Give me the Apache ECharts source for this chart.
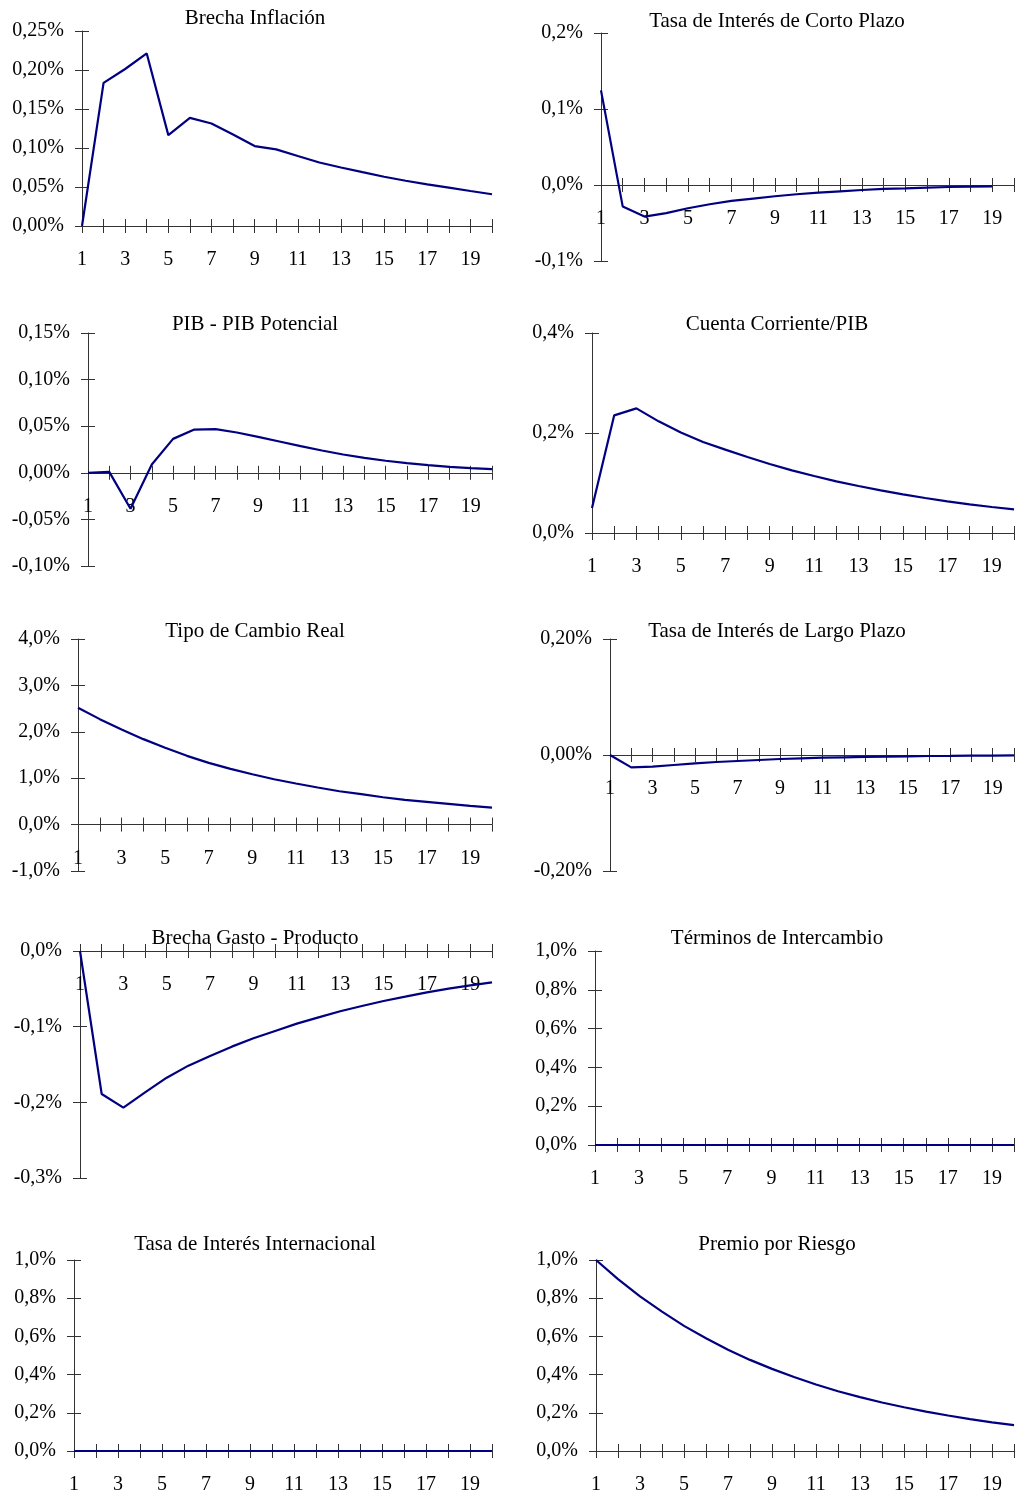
<!DOCTYPE html>
<html>
<head>
<meta charset="utf-8">
<script src="https://cdn.jsdelivr.net/npm/echarts@6/dist/echarts.min.js"></script>
<style>
html,body{margin:0;padding:0;background:#fff;}
#chart{width:1016px;height:1497px;}
</style>
</head>
<body>
<div id="chart"></div>
<script>
// ---- data (percent) ----
const periods = ['1','2','3','4','5','6','7','8','9','10','11','12','13','14','15','16','17','18','19','20'];

const brechaInflacion = [0, 0.1835, 0.2013, 0.2212, 0.1165, 0.1386, 0.1314, 0.1174, 0.1025, 0.0983, 0.0898, 0.0814, 0.075, 0.069, 0.0631, 0.058, 0.0534, 0.0492, 0.0449, 0.0407];
const tasaCorto = [0.1245, -0.0284, -0.0415, -0.0371, -0.0306, -0.0253, -0.021, -0.0179, -0.0148, -0.0122, -0.01, -0.0083, -0.0066, -0.0052, -0.0044, -0.0035, -0.0026, -0.0022, -0.0017, null];
const pibPotencial = [0, 0.001, -0.0386, 0.0089, 0.0364, 0.0464, 0.0468, 0.0432, 0.0386, 0.0336, 0.0286, 0.0239, 0.0196, 0.0161, 0.0129, 0.0104, 0.0082, 0.0064, 0.005, 0.0039];
const cuentaCorriente = [0.05, 0.2353, 0.2493, 0.2233, 0.201, 0.182, 0.1667, 0.152, 0.138, 0.1253, 0.114, 0.1033, 0.094, 0.0853, 0.0773, 0.07, 0.0633, 0.0573, 0.052, 0.0473];
const tipoCambio = [2.518, 2.273, 2.05, 1.842, 1.655, 1.482, 1.331, 1.201, 1.086, 0.978, 0.885, 0.799, 0.719, 0.655, 0.59, 0.532, 0.489, 0.446, 0.403, 0.367];
const tasaLargo = [0, -0.0213, -0.0201, -0.0172, -0.0144, -0.0121, -0.0103, -0.0086, -0.0069, -0.0057, -0.0046, -0.004, -0.0034, -0.0029, -0.0023, -0.0017, -0.0015, -0.0012, -0.001, -0.0008];
const brechaGasto = [0, -0.189, -0.207, -0.1868, -0.1674, -0.1515, -0.1388, -0.1264, -0.1154, -0.1057, -0.096, -0.0877, -0.0797, -0.0727, -0.0661, -0.0604, -0.0546, -0.0498, -0.0454, -0.0414];
const terminosIntercambio = [0,0,0,0,0,0,0,0,0,0,0,0,0,0,0,0,0,0,0,0];
const tasaInternacional = [0,0,0,0,0,0,0,0,0,0,0,0,0,0,0,0,0,0,0,0];
const premioRiesgo = [1.0, 0.90, 0.81, 0.73, 0.655, 0.59, 0.53, 0.477, 0.43, 0.387, 0.348, 0.313, 0.282, 0.254, 0.229, 0.206, 0.186, 0.167, 0.15, 0.135];

const titles = ['Brecha Inflación','Tasa de Interés de Corto Plazo','PIB - PIB Potencial','Cuenta Corriente/PIB','Tipo de Cambio Real','Tasa de Interés de Largo Plazo','Brecha Gasto - Producto','Términos de Intercambio','Tasa de Interés Internacional','Premio por Riesgo'];
const seriesData = [brechaInflacion, tasaCorto, pibPotencial, cuentaCorriente, tipoCambio, tasaLargo, brechaGasto, terminosIntercambio, tasaInternacional, premioRiesgo];
// y-axis scales: [min, max, interval, decimals]
const yScales = [[0,0.25,0.05,2],[-0.1,0.2,0.1,1],[-0.1,0.15,0.05,2],[0,0.4,0.2,1],[-1,4,1,1],[-0.2,0.2,0.2,2],[-0.3,0,0.1,1],[0,1,0.2,1],[0,1,0.2,1],[0,1,0.2,1]];

// ---- layout ----
const W = 1016, H = 1497;
// [axisX, rightEnd, topY, bottomY, titleCenterX, titleCenterY]
const layout = [
  [82, 492, 31, 226, 255, 17],
  [601, 1014, 33, 261, 777, 20],
  [88, 492, 333, 566, 255, 323],
  [592, 1014, 333, 533, 777, 323],
  [78, 492, 639, 871, 255, 630],
  [610, 1014, 639, 871, 777, 630],
  [80, 492, 951, 1178, 255, 937],
  [595, 1014, 951, 1145, 777, 937],
  [74, 492, 1260, 1451, 255, 1243],
  [596, 1014, 1260, 1451, 777, 1243]
];

const FONT = "'Liberation Serif','Times New Roman',serif";
const AXIS_COLOR = '#333';
const LINE_COLOR = '#000080';

const grid = [], xAxis = [], yAxis = [], series = [], title = [];
layout.forEach((L, i) => {
  const [ax, rx, ty, by, tcx, tcy] = L;
  grid.push({left: ax, right: W - rx, top: ty, bottom: H - by, containLabel: false});
  const [mn, mx, iv, dec] = yScales[i];
  const fmt = v => (Math.abs(v) < 1e-9 ? 0 : v).toFixed(dec).replace('.', ',') + '%';
  // the category axis crosses the value axis at zero
  const zeroOffset = -((0 - mn) / (mx - mn)) * (by - ty);
  // primary y axis (labels, outward ticks)
  yAxis.push({
    type: 'value', gridIndex: i, min: mn, max: mx, interval: iv, position: 'left',
    axisLine: {show: true, lineStyle: {color: AXIS_COLOR, width: 1}},
    axisTick: {show: true, length: 7, lineStyle: {color: AXIS_COLOR}},
    axisLabel: {show: true, formatter: fmt, margin: 18, padding: [4, 0, 0, 0], color: '#000', fontFamily: FONT, fontSize: 20},
    splitLine: {show: false}
  });
  // secondary y axis (inward ticks)
  yAxis.push({
    type: 'value', gridIndex: i, min: mn, max: mx, interval: iv, position: 'left',
    axisLine: {show: false},
    axisTick: {show: true, inside: true, length: 7, lineStyle: {color: AXIS_COLOR}},
    axisLabel: {show: false},
    splitLine: {show: false}
  });
  // primary x axis
  xAxis.push({
    type: 'category', gridIndex: i, data: periods, boundaryGap: false, position: 'bottom', offset: zeroOffset,
    axisLine: {show: true, onZero: false, lineStyle: {color: AXIS_COLOR, width: 1}},
    axisTick: {show: true, interval: 0, length: 7, lineStyle: {color: AXIS_COLOR}},
    axisLabel: {show: true, interval: 1, margin: 24, color: '#000', fontFamily: FONT, fontSize: 20},
    splitLine: {show: false}
  });
  // secondary x axis (upward ticks)
  xAxis.push({
    type: 'category', gridIndex: i, data: periods, boundaryGap: false, position: 'bottom', offset: zeroOffset,
    axisLine: {show: false, onZero: false},
    axisTick: {show: true, inside: true, interval: 0, length: 7, lineStyle: {color: AXIS_COLOR}},
    axisLabel: {show: false},
    splitLine: {show: false}
  });
  series.push({
    type: 'line', xAxisIndex: 2 * i, yAxisIndex: 2 * i, data: seriesData[i],
    showSymbol: false, symbol: 'none', connectNulls: false,
    lineStyle: {color: LINE_COLOR, width: 2.2}, itemStyle: {color: LINE_COLOR},
    animation: false, z: 5
  });
  title.push({
    text: titles[i], left: tcx, top: tcy - 9, textAlign: 'center', padding: 0,
    textStyle: {fontFamily: FONT, fontSize: 21, fontWeight: 'normal', color: '#000'}
  });
});

const chart = echarts.init(document.getElementById('chart'), null, {renderer: 'canvas'});
chart.setOption({
  animation: false,
  backgroundColor: '#fff',
  title, grid, xAxis, yAxis, series
});
</script>
</body>
</html>
